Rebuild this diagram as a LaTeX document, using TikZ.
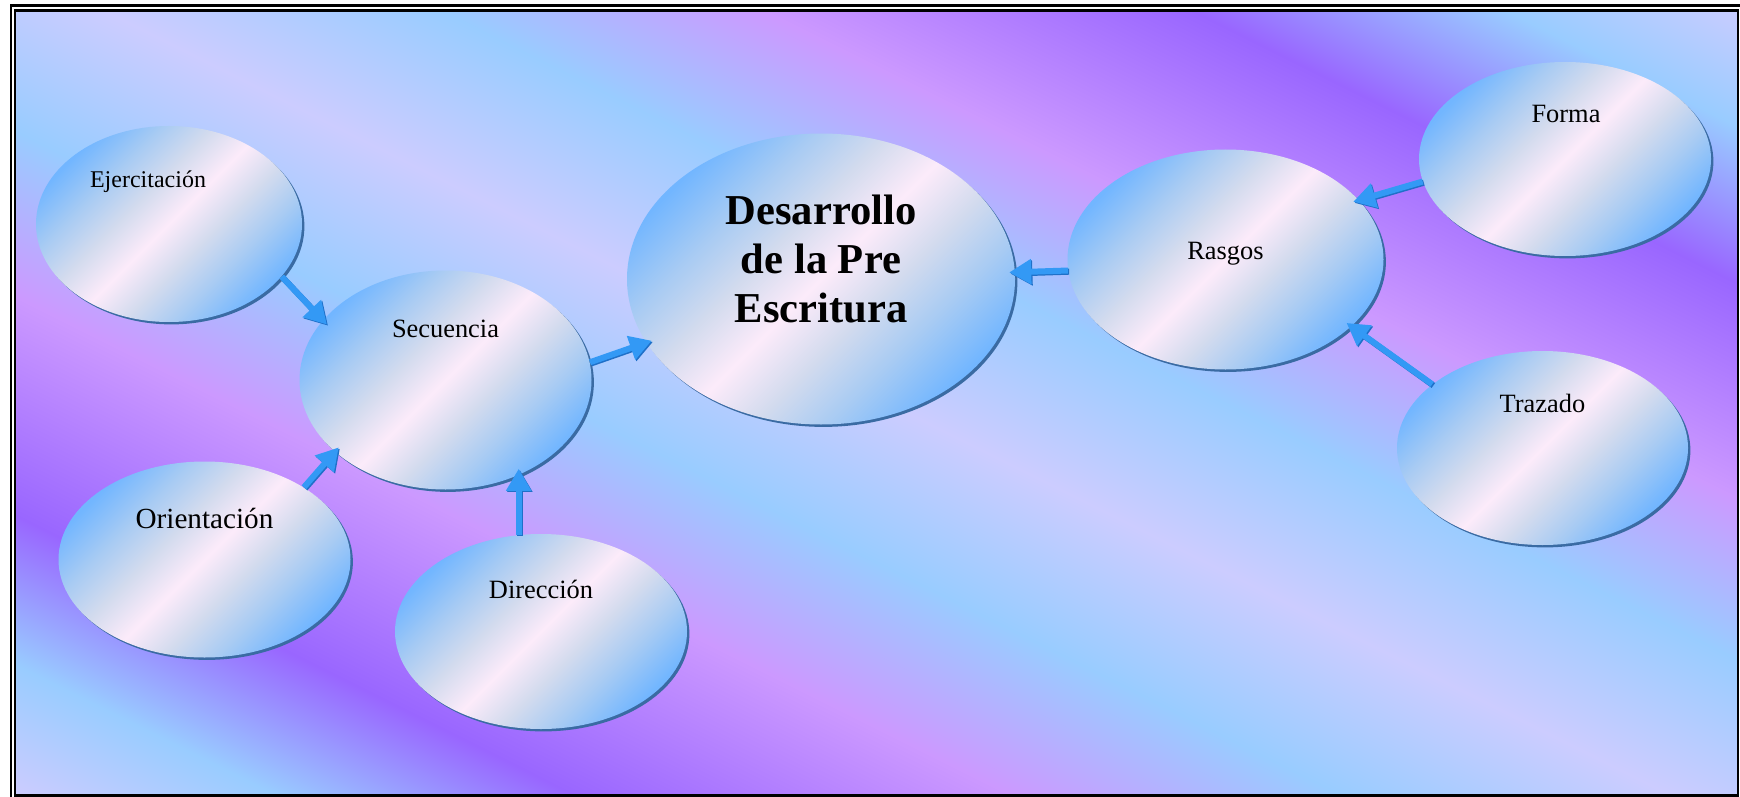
\documentclass[tikz,border=0pt]{standalone}
\usepackage{fontspec}
\setmainfont{Liberation Serif}
\usepackage{tikz}
\usetikzlibrary{calc,shapes.geometric,arrows.meta,shadows}
\definecolor{bgLav}{HTML}{CCCCFF}
\definecolor{bgSky}{HTML}{99CCFF}
\definecolor{bgPink}{HTML}{CC99FF}
\definecolor{bgViolet}{HTML}{9966FF}
\definecolor{bblue}{HTML}{72B6FF}
\definecolor{bsoft}{HTML}{A8CBF3}
\definecolor{bmid}{HTML}{D3DBEE}
\definecolor{bhi}{HTML}{FCEBFA}
\definecolor{rim}{HTML}{3A6BA3}
\definecolor{arrowc}{HTML}{3399F5}
\definecolor{arrowd}{HTML}{1F70C8}
\pgfdeclarehorizontalshading{bgshade}{100bp}{%
  color(0bp)=(bgLav); color(28.8bp)=(bgLav); color(32bp)=(bgSky);
  color(36bp)=(bgViolet); color(41.5bp)=(bgPink); color(45.6bp)=(bgSky);
  color(49.9bp)=(bgLav); color(54.1bp)=(bgSky); color(58.3bp)=(bgPink);
  color(63.9bp)=(bgViolet); color(67.7bp)=(bgSky); color(71bp)=(bgLav);
  color(100bp)=(bgLav)}
\pgfdeclarehorizontalshading{bubbleshade}{100bp}{%
  color(0bp)=(bblue); color(25bp)=(bblue); color(34bp)=(bsoft);
  color(42bp)=(bmid); color(50bp)=(bhi); color(58bp)=(bmid);
  color(66bp)=(bsoft); color(75bp)=(bblue); color(100bp)=(bblue)}
\tikzset{
  frame/.style={draw=black, line width=1.25pt},
  bubble/.style={ellipse, inner sep=0pt, shade, shading=bubbleshade, shading angle=-45,
    drop shadow={shadow xshift=1.2pt, shadow yshift=-1.2pt, fill=rim, opacity=1}},
  lbl/.style={text=black, inner sep=0pt, font=\fontsize{13.2}{15}\selectfont},
  link/.style={draw=arrowc, line width=3pt, -{Triangle[length=11pt,width=12pt]}, shorten >=-3pt,
    preaction={draw=arrowd, line width=3pt, -{Triangle[length=11pt,width=12pt]}, shorten >=-3pt,
      transform canvas={shift={(0.6pt,-0.6pt)}}}}
}

\begin{document}
\begin{tikzpicture}[x=0.5pt, y=0.5pt]
  \useasboundingbox (0,0) rectangle (1740,-797);
  \fill[white] (0,0) rectangle (1740,-797);

  % slide background, diagonal bands
  \begin{scope}
    \clip (16,-12) rectangle (1737,-795);
    \shade[shading=bgshade, shading angle=243.4] (-10,482) rectangle (1750,-1278);
  \end{scope}
  \draw[frame] (11,-5.5) rectangle (1760,-820);
  \draw[frame] (15,-10.5) rectangle (1738,-795.5);

  % bubbles
  \node[bubble, minimum width=133pt, minimum height=98pt] (eje) at (169,-224) {};
  \node[bubble, minimum width=146pt, minimum height=109.5pt] (sec) at (445.5,-380) {};
  \node[bubble, minimum width=146pt, minimum height=98pt] (ori) at (204.5,-559.5) {};
  \node[bubble, minimum width=146pt, minimum height=97.5pt] (dir) at (541,-631.5) {};
  \node[bubble, minimum width=194pt, minimum height=145.5pt] (des) at (821,-279) {};
  \node[bubble, minimum width=158pt, minimum height=110pt] (ras) at (1225.5,-259.5) {};
  \node[bubble, minimum width=146pt, minimum height=97pt] (forma) at (1565,-159) {};
  \node[bubble, minimum width=145.5pt, minimum height=97pt] (traz) at (1542.5,-448) {};

  % texts
  \node[lbl, font=\fontsize{12}{14}\selectfont] (ejeT) at ($(eje)+(-21,42)$) {Ejercitación};
  \node[lbl] (secT) at ($(sec)+(0,51)$) {Secuencia};
  \node[lbl, font=\fontsize{14.6}{17}\selectfont] (oriT) at ($(ori)+(0,41)$) {Orientación};
  \node[lbl] (dirT) at ($(dir)+(0,42.5)$) {Dirección};
  \node[lbl, align=center, font=\bfseries\fontsize{21.3}{24.4}\selectfont] (desT) at ($(des)+(0,20)$) {Desarrollo\\de la Pre\\Escritura};
  \node[lbl] (rasT) at ($(ras)+(0,5.5)$) {Rasgos};
  \node[lbl] (formaT) at ($(forma)+(1,45)$) {Forma};
  \node[lbl] (trazT) at ($(traz)+(0,45)$) {Trazado};

  % arrows
  \draw[link] (eje.-25) -- (sec.154);
  \draw[link] (ori.36) -- (sec.213);
  \draw[link] (dir.103) -- (dir.103 |- sec.-52);
  \draw[link] (sec.7) -- (des.200);
  \draw[link] (ras.184) -- (des.2);
  \draw[link] (forma.189) -- (ras.24);
  \draw[link] (traz.150) -- (ras.-28);
\end{tikzpicture}
\end{document}
